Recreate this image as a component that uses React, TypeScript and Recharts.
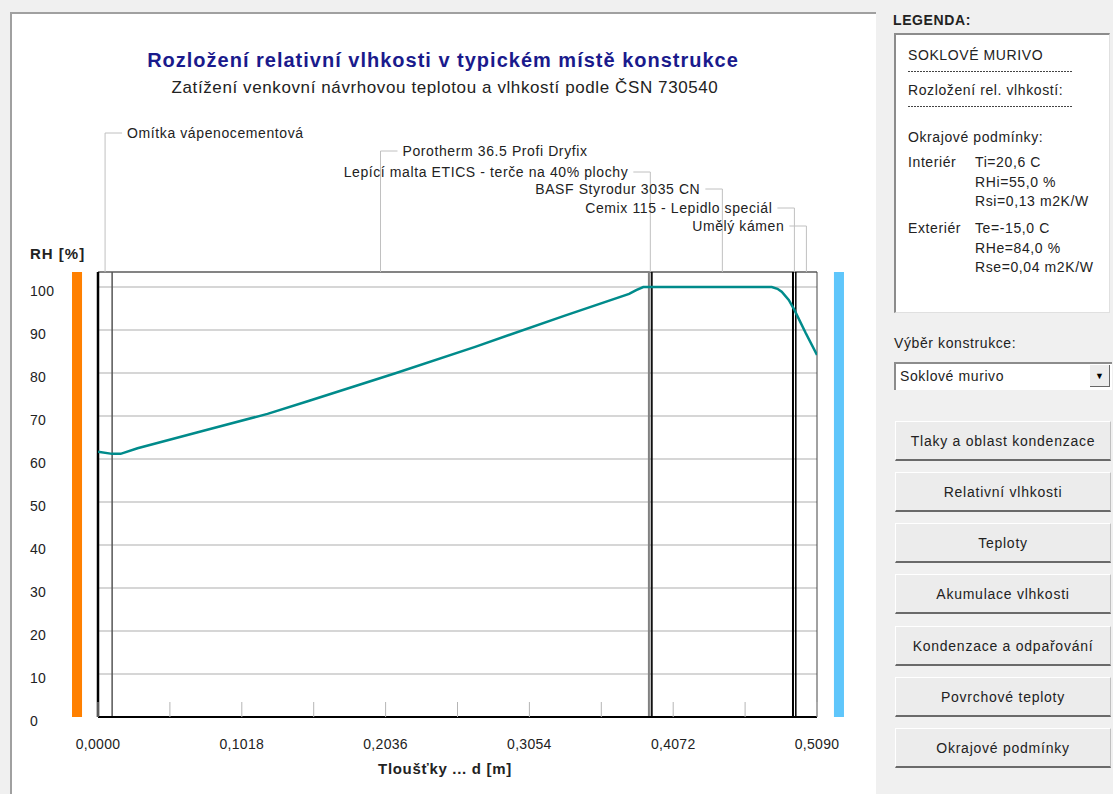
import React from 'react';
import {
  ComposedChart,
  Line,
  XAxis,
  YAxis,
  CartesianGrid,
  ReferenceLine,
  ReferenceArea,
  ReferenceDot,
} from 'recharts';

// Relative humidity profile through the wall (depth in m, RH in %)
const depthM = [
  0, 0.01, 0.016, 0.028, 0.076, 0.12, 0.149, 0.21, 0.267, 0.33, 0.376, 0.381,
  0.386, 0.39, 0.472, 0.477, 0.481, 0.484, 0.489, 0.493, 0.501, 0.509,
];
const relHumidity = [
  61.7, 61.2, 61.2, 62.5, 66.7, 70.5, 73.5, 79.9, 86.1, 93.3, 98.4, 99.3, 100,
  100, 100, 100, 99.6, 98.9, 97.0, 94.7, 89.3, 84.2,
];

// Layer boundaries and layer names (interior -> exterior)
const layerBoundaries = [0, 0.01, 0.39, 0.392, 0.492, 0.494, 0.509];
const layerNames = [
  'Omítka vápenocementová',
  'Porotherm 36.5 Profi Dryfix',
  'Lepící malta ETICS - terče na 40% plochy',
  'BASF Styrodur 3035 CN',
  'Cemix 115 - Lepidlo speciál',
  'Umělý kámen',
];
const layerLabelRise = [139, 121, 100, 83, 64, 46];
const layerLabelSide = ['right', 'right', 'left', 'left', 'left', 'left'];

const xTicks = [0, 0.0509, 0.1018, 0.1527, 0.2036, 0.2545, 0.3054, 0.3563, 0.4072, 0.4581, 0.509];
const yTicks = [0, 10, 20, 30, 40, 50, 60, 70, 80, 90, 100];

const X_MAX = 0.509;
const Y_MAX = 103.5;

const boundaryStyles = [
  { stroke: '#000000', width: 2.5 },
  { stroke: '#555555', width: 1.5 },
  { stroke: '#808080', width: 2 },
  { stroke: '#111111', width: 2 },
  { stroke: '#000000', width: 2 },
  { stroke: '#000000', width: 1.5 },
  { stroke: '#444444', width: 1 },
];

const FONT = '"Liberation Sans", Arial, sans-serif';

const chartData = depthM.map((d, i) => ({ d, rh: relHumidity[i] }));

const layerLabels = layerNames.map((name, i) => ({
  name,
  mid: (layerBoundaries[i] + layerBoundaries[i + 1]) / 2,
  rise: layerLabelRise[i],
  side: layerLabelSide[i],
}));

const fmtDepth = (v: number) => v.toFixed(4).replace('.', ',');

const XTick = (props: any) => {
  const { x, y, payload, index } = props;
  return (
    <g>
      <line x1={x} y1={y} x2={x} y2={y - 15} stroke="#b5b5b5" strokeWidth={1} />
      {index % 2 === 0 && (
        <text
          x={x}
          y={y + 27}
          dy="0.35em"
          textAnchor="middle"
          fontSize={14}
          fill="#222"
          fontFamily={FONT}
          letterSpacing={0.3}
        >
          {fmtDepth(payload.value)}
        </text>
      )}
    </g>
  );
};

const YTick = (props: any) => {
  const { x, y, payload } = props;
  return (
    <text
      x={x - 68}
      y={y + 4}
      dy="0.35em"
      textAnchor="start"
      fontSize={14}
      fill="#222"
      fontFamily={FONT}
      letterSpacing={0.3}
    >
      {payload.value}
    </text>
  );
};

const LayerLabel = (props: any) => {
  const { cx, cy, rise, side, text } = props;
  const yy = cy - rise;
  const dir = side === 'right' ? 1 : -1;
  return (
    <g>
      <line x1={cx} y1={cy} x2={cx} y2={yy} stroke="#c0c0c0" strokeWidth={1} />
      <line x1={cx} y1={yy} x2={cx + dir * 17} y2={yy} stroke="#c0c0c0" strokeWidth={1} />
      <text
        x={cx + dir * 22}
        y={yy}
        dy="0.35em"
        textAnchor={side === 'right' ? 'start' : 'end'}
        fontSize={14}
        fill="#222"
        fontFamily={FONT}
        letterSpacing={0.6}
      >
        {text}
      </text>
    </g>
  );
};

const abs = (left: number, top: number, extra: React.CSSProperties = {}): React.CSSProperties => ({
  position: 'absolute',
  left,
  top,
  ...extra,
});

const buttonLabels = [
  'Tlaky a oblast kondenzace',
  'Relativní vlhkosti',
  'Teploty',
  'Akumulace vlhkosti',
  'Kondenzace a odpařování',
  'Povrchové teploty',
  'Okrajové podmínky',
];
const buttonTops = [421, 472, 523, 574, 626, 677, 728];

const Dashes = ({ top }: { top: number }) => (
  <div
    style={abs(908, top, {
      width: 164,
      height: 1,
      backgroundImage: 'repeating-linear-gradient(to right, #444 0 2px, transparent 2px 3px)',
    })}
  />
);

export default function App() {
  const txt: React.CSSProperties = {
    fontFamily: FONT,
    fontSize: 14,
    color: '#222',
    whiteSpace: 'nowrap',
    lineHeight: '16px',
    letterSpacing: 0.6,
  };
  return (
    <div
      style={{
        position: 'absolute',
        left: 0,
        top: 0,
        width: 1113,
        height: 794,
        background: '#f0f0f0',
        overflow: 'hidden',
        fontFamily: FONT,
      }}
    >
      {/* chart panel */}
      <div
        style={abs(10, 12, {
          width: 866,
          height: 800,
          background: '#ffffff',
          borderLeft: '2px solid #a0a0a0',
          borderTop: '2px solid #a0a0a0',
          boxSizing: 'border-box',
        })}
      />
      <div
        style={abs(443, 60, {
          transform: 'translate(-50%, -50%)',
          fontFamily: FONT,
          fontSize: 20,
          fontWeight: 'bold',
          letterSpacing: 1,
          color: '#1a1a8c',
          whiteSpace: 'nowrap',
        })}
      >
        Rozložení relativní vlhkosti v typickém místě konstrukce
      </div>
      <div
        style={abs(445, 88, {
          transform: 'translate(-50%, -50%)',
          fontFamily: FONT,
          fontSize: 17,
          letterSpacing: 0.6,
          color: '#222',
          whiteSpace: 'nowrap',
        })}
      >
        Zatížení venkovní návrhovou teplotou a vlhkostí podle ČSN 730540
      </div>
      <div style={abs(30, 246, { ...txt, fontWeight: 'bold', fontSize: 15, letterSpacing: 1 })}>RH [%]</div>
      <div
        style={abs(445, 769, {
          ...txt,
          transform: 'translate(-50%, -50%)',
          fontWeight: 'bold',
          fontSize: 15,
          letterSpacing: 0.7,
        })}
      >
        Tloušťky ... d [m]
      </div>

      <div style={abs(0, 0)}>
        <ComposedChart
          width={876}
          height={794}
          data={chartData}
          margin={{ top: 272, right: 59, bottom: 47, left: 0 }}
        >
          <CartesianGrid vertical={false} stroke="#d6d6d6" strokeWidth={2} />
          <XAxis
            type="number"
            dataKey="d"
            domain={[0, X_MAX]}
            ticks={xTicks}
            allowDataOverflow
            height={30}
            tickSize={0}
            tickMargin={0}
            tickLine={false}
            axisLine={{ stroke: '#000', strokeWidth: 2 }}
            tick={<XTick />}
            interval={0}
          />
          <YAxis
            type="number"
            domain={[0, Y_MAX]}
            ticks={yTicks}
            allowDataOverflow
            width={98}
            tickSize={0}
            tickMargin={0}
            tickLine={false}
            axisLine={false}
            tick={<YTick />}
            interval={0}
          />
          {/* interior / exterior side markers */}
          <ReferenceArea
            x1={-0.0184}
            x2={-0.0113}
            y1={0}
            y2={Y_MAX}
            ifOverflow="visible"
            fill="#ff8000"
            fillOpacity={1}
            stroke="none"
          />
          <ReferenceArea
            x1={0.521}
            x2={0.5281}
            y1={0}
            y2={Y_MAX}
            ifOverflow="visible"
            fill="#5fc6fb"
            fillOpacity={1}
            stroke="none"
          />
          <ReferenceLine y={Y_MAX} stroke="#333" strokeWidth={1} ifOverflow="visible" />
          {layerBoundaries.map((b, i) => (
            <ReferenceLine
              key={'b' + i}
              x={b}
              stroke={boundaryStyles[i].stroke}
              strokeWidth={boundaryStyles[i].width}
              ifOverflow="visible"
            />
          ))}
          {layerLabels.map((l, i) => (
            <ReferenceDot
              key={'l' + i}
              x={l.mid}
              y={Y_MAX}
              r={0}
              ifOverflow="visible"
              shape={(p: any) => <LayerLabel {...p} rise={l.rise} side={l.side} text={l.name} />}
            />
          ))}
          <Line
            type="linear"
            dataKey="rh"
            stroke="#008b8b"
            strokeWidth={2.5}
            dot={false}
            isAnimationActive={false}
          />
        </ComposedChart>
      </div>

      {/* side panel */}
      <div style={abs(893, 12, { ...txt, fontWeight: 'bold' })}>LEGENDA:</div>
      <div
        style={abs(894, 33, {
          width: 216,
          height: 280,
          background: '#fff',
          borderLeft: '2px solid #8c8c8c',
          borderTop: '2px solid #8c8c8c',
          borderRight: '1px solid #e0e0e0',
          borderBottom: '1px solid #e0e0e0',
          boxSizing: 'border-box',
        })}
      />
      <div style={abs(908, 47, txt)}>SOKLOVÉ MURIVO</div>
      <Dashes top={71} />
      <div style={abs(908, 82, txt)}>Rozložení rel. vlhkostí:</div>
      <Dashes top={106} />
      <div style={abs(908, 129, txt)}>Okrajové podmínky:</div>
      <div style={abs(908, 154, txt)}>Interiér</div>
      <div style={abs(975, 154, txt)}>Ti=20,6 C</div>
      <div style={abs(975, 174, txt)}>RHi=55,0 %</div>
      <div style={abs(975, 193, txt)}>Rsi=0,13 m2K/W</div>
      <div style={abs(908, 220, txt)}>Exteriér</div>
      <div style={abs(975, 220, txt)}>Te=-15,0 C</div>
      <div style={abs(975, 240, txt)}>RHe=84,0 %</div>
      <div style={abs(975, 259, txt)}>Rse=0,04 m2K/W</div>

      <div style={abs(894, 335, txt)}>Výběr konstrukce:</div>
      <div
        style={abs(894, 362, {
          width: 218,
          height: 28,
          background: '#fff',
          borderLeft: '2px solid #8c8c8c',
          borderTop: '2px solid #8c8c8c',
          boxSizing: 'border-box',
        })}
      />
      <div style={abs(900, 368, txt)}>Soklové murivo</div>
      <div
        style={abs(1090, 365, {
          width: 20,
          height: 22,
          background: '#ececec',
          borderBottom: '1px solid #666',
          borderRight: '1px solid #666',
          boxSizing: 'border-box',
          fontSize: 9,
          textAlign: 'center',
          lineHeight: '22px',
          color: '#000',
        })}
      >
        ▼
      </div>

      {buttonLabels.map((b, i) => (
        <div
          key={b}
          style={abs(895, buttonTops[i], {
            width: 216,
            height: 40,
            background: '#ececec',
            borderTop: '1px solid #ffffff',
            borderLeft: '1px solid #ffffff',
            borderBottom: '2px solid #6a6a6a',
            borderRight: '1px solid #c0c0c0',
            boxSizing: 'border-box',
            ...txt,
            letterSpacing: 0.75,
            display: 'flex',
            alignItems: 'center',
            justifyContent: 'center',
          })}
        >
          {b}
        </div>
      ))}
    </div>
  );
}
